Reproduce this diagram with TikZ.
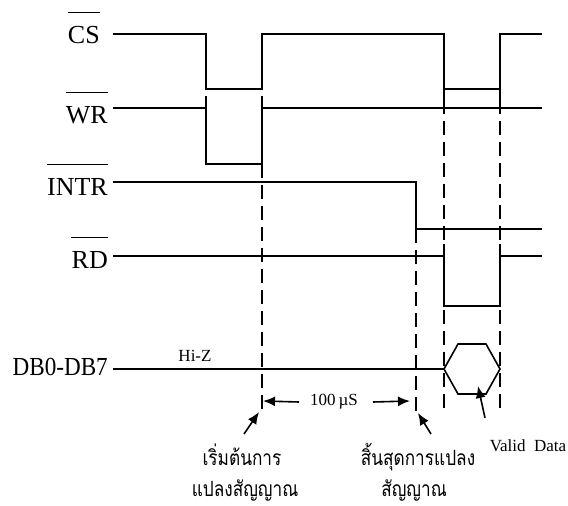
\documentclass[tikz,border=0pt]{standalone}
\usepackage{fontspec}
\setmainfont{Liberation Serif}
\newfontfamily\thaifont[Script=Thai]{Loma}
\usetikzlibrary{arrows.meta}
\begin{document}
\begin{tikzpicture}[x=1pt,y=-1pt,
 sig/.style={line width=1.6pt, line join=miter},
 dsh/.style={line width=1.6pt, dash pattern=on 14pt off 7pt},
 lbl/.style={inner sep=0pt, anchor=base east, font=\fontsize{26}{30}\selectfont},
 ovl/.style={line width=1.4pt},
 small/.style={inner sep=0pt, font=\fontsize{17}{20}\selectfont},
 thai/.style={inner sep=0pt, anchor=base, xscale=0.82, font=\thaifont\fontsize{21}{24}\selectfont},
 arr/.style={line width=1.6pt, -{Latex[length=12pt,width=10pt]}}
]
\useasboundingbox (0,0) rectangle (568,506);
% labels
\node[lbl] (cs) at (100,43) {CS};
\node[lbl] (wr) at (108,123) {WR};
\node[lbl] (intr) at (108,195) {INTR};
\node[lbl] (rd) at (108,268) {RD};
\node[lbl, xscale=0.89] (db) at (108,375) {DB0-DB7};
\foreach \n in {cs,wr,intr,rd}
  \draw[ovl] ([yshift=13pt]\n.north west) -- ([yshift=13pt]\n.north east);
% CS
\draw[sig] (113,34) -- (206,34) -- (206,89) -- (262,89) -- (262,34) -- (444,34) -- (444,89) -- (500,89) -- (500,34) -- (542,34);
\draw[sig] (444,89) -- (444,100);
\draw[sig] (500,89) -- (500,100);
% WR
\draw[sig] (113,108) -- (206,108);
\draw[sig] (206,96) -- (206,164) -- (262,164) -- (262,96);
\draw[sig] (262,108) -- (542,108);
% INTR
\draw[sig] (113,182) -- (416,182) -- (416,229) -- (542,229);
% RD
\draw[sig] (113,256) -- (444,256);
\draw[sig] (444,244) -- (444,306) -- (500,306) -- (500,244);
\draw[sig] (500,256) -- (542,256);
% DB
\draw[sig] (113,369) -- (444,369);
\draw[sig] (444,369) -- (458,344) -- (486,344) -- (500,369) -- (486,394) -- (458,394) -- cycle;
\node[small] (hiz) at (195,356) {Hi-Z};
% dashed
\draw[dsh] (262,164) -- (262,412);
\draw[dsh] (416,229) -- (416,412);
\draw[dsh] (444,100) -- (444,412);
\draw[dsh] (500,100) -- (500,412);
% 100us
\node[small] (t) at (334,402) {100\,µS};
\coordinate (la) at (263,401);
\coordinate (ra) at (410,401);
\draw[arr] (t.west) ++(-11pt,0) -- (la);
\draw[arr] (t.east) ++(15pt,0) -- (ra);
% annotations
\node[thai] (s1) at (242,465) {เริ่มต้นการ};
\node[thai] (s2) at (245,496) {แปลงสัญญาณ};
\node[thai] (e1) at (418,465) {สิ้นสุดการแปลง};
\node[thai] (e2) at (414,496) {สัญญาณ};
\node[small] (vd) at (528,446) {Valid\ \ Data};
\coordinate (p1) at (259,412);
\coordinate (p2) at (418,413);
\coordinate (p3) at (478,386);
\draw[arr] (244,434) -- (p1);
\draw[arr] (431,434) -- (p2);
\draw[arr] (485,418) -- (p3);
\end{tikzpicture}
\end{document}
